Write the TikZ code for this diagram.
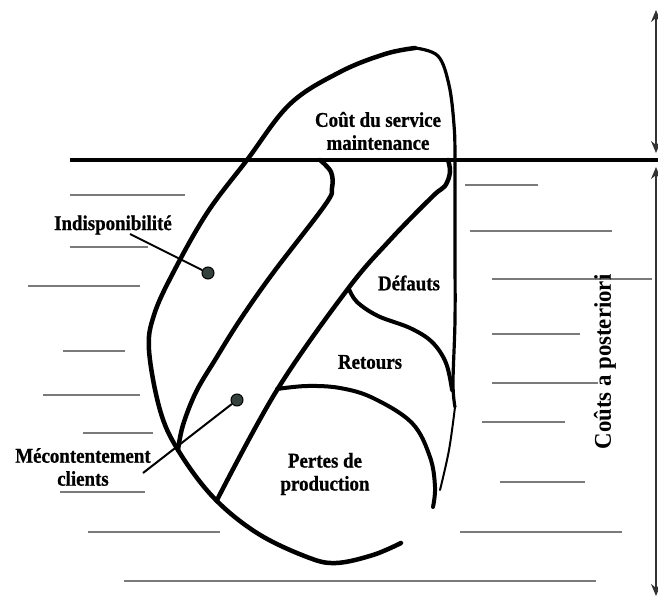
\documentclass[tikz,border=0pt]{standalone}
\usepackage{fontspec}
\setmainfont{Liberation Serif}
\newfontfamily\lblfont[FakeStretch=0.9,FakeBold=0.8]{Liberation Serif}
\newfontfamily\sidefont[FakeStretch=0.95]{Liberation Serif}
\usepackage{xcolor}
\usepackage{tikz}
\usetikzlibrary{arrows.meta}
\definecolor{dotfill}{HTML}{34413D}
\definecolor{rulegray}{HTML}{7A7A7A}

\begin{document}
\begin{tikzpicture}[x=1pt,y=-1pt,>={Stealth[length=12pt,width=10pt]},
 lbl/.style={font=\lblfont\bfseries\fontsize{21}{23}\selectfont,align=center,inner sep=0pt},
 border/.style={line width=4.5pt,line cap=round,line join=round},
 rule/.style={rulegray,line width=2pt},
 pin/.style={circle,draw,line width=1pt,fill=dotfill,inner sep=0pt,minimum size=12pt},
 pointer/.style={line width=2pt}]
\useasboundingbox (0,0) rectangle (658,597);
\fill[white] (0,0) rectangle (658,597);
\foreach \a/\b/\y in {70/185/195,70/148/247,28/140/286,63/125/351,43/140/395,83/153/433,60/145/492,88/220/532,124/596/581,
 465/538/185,470/612/231,492/652/279,492/580/334,492/598/383,482/565/422,500/585/482,460/622/532}
 \draw[rule] (\a,\y)--(\b,\y);
\draw[line width=4.5pt] (70,160)--(658,160);
\draw[border] plot[smooth,tension=0.6] coordinates {(401,543) (373,555) (336,563) (307,557) (257,533) (213,497) (178,450) (160,410) (149,350) (154,315) (173,273) (207,213) (247,160) (290,104) (340,72) (385,54) (415,48)};
\draw[border,line width=3.2pt] plot[smooth,tension=0.6] coordinates {(415,48) (438,56) (449,85) (454,125) (455,160) (455,250) (455,320) (453,383) (455,407)};
\draw[border,line width=2pt] plot[smooth,tension=0.6] coordinates {(455,407) (449,450) (440,490)};
\draw[border] plot[smooth,tension=0.6] coordinates {(320,160) (331,172) (332,188) (325,205) (273,273) (240,320) (215,360) (196,392) (183,425) (178,450)};
\draw[border] plot[smooth,tension=0.6] coordinates {(448,160) (450,172) (445,186) (433,196) (390,240) (347,290) (277,390) (217,500)};
\draw[border,line width=4pt] plot[smooth,tension=0.6] coordinates {(349,289) (357,302) (378,316) (410,328) (432,342) (446,363) (452,390)};
\draw[border,line width=4pt] plot[smooth,tension=0.6] coordinates {(277,389) (307,386) (340,388) (373,398) (412,423) (430,457) (435,487) (433,507)};
\node[lbl] (cout) at (378,131) {Coût du service\\maintenance};
\node[lbl] (indisp) at (113,225) {Indisponibilité};
\node[lbl] (defauts) at (409,283) {Défauts};
\node[lbl] (retours) at (370,362) {Retours};
\node[lbl] (pertes) at (325,474) {Pertes de\\production};
\node[lbl] (mecont) at (83,467) {Mécontentement\\clients};
\node[font=\sidefont\bfseries\fontsize{24}{26}\selectfont,rotate=90,inner sep=0pt] (posteriori) at (605,362) {Coûts a posteriori};
\node[pin] (dotI) at (208,273) {};
\node[pin] (dotM) at (237,400) {};
\coordinate (pI) at (130,234);
\coordinate (pM) at (143,473);
\draw[pointer] (pI) -- (dotI);
\draw[pointer] (pM) -- (dotM);
\coordinate (t0) at (656,10);
\coordinate (t1) at (656,153);
\coordinate (b0) at (656,167);
\coordinate (b1) at (656,596);
\draw[<->,line width=1.5pt,black!80] (t0) -- (t1);
\draw[<->,line width=1.5pt,black!80] (b0) -- (b1);
\end{tikzpicture}
\end{document}
